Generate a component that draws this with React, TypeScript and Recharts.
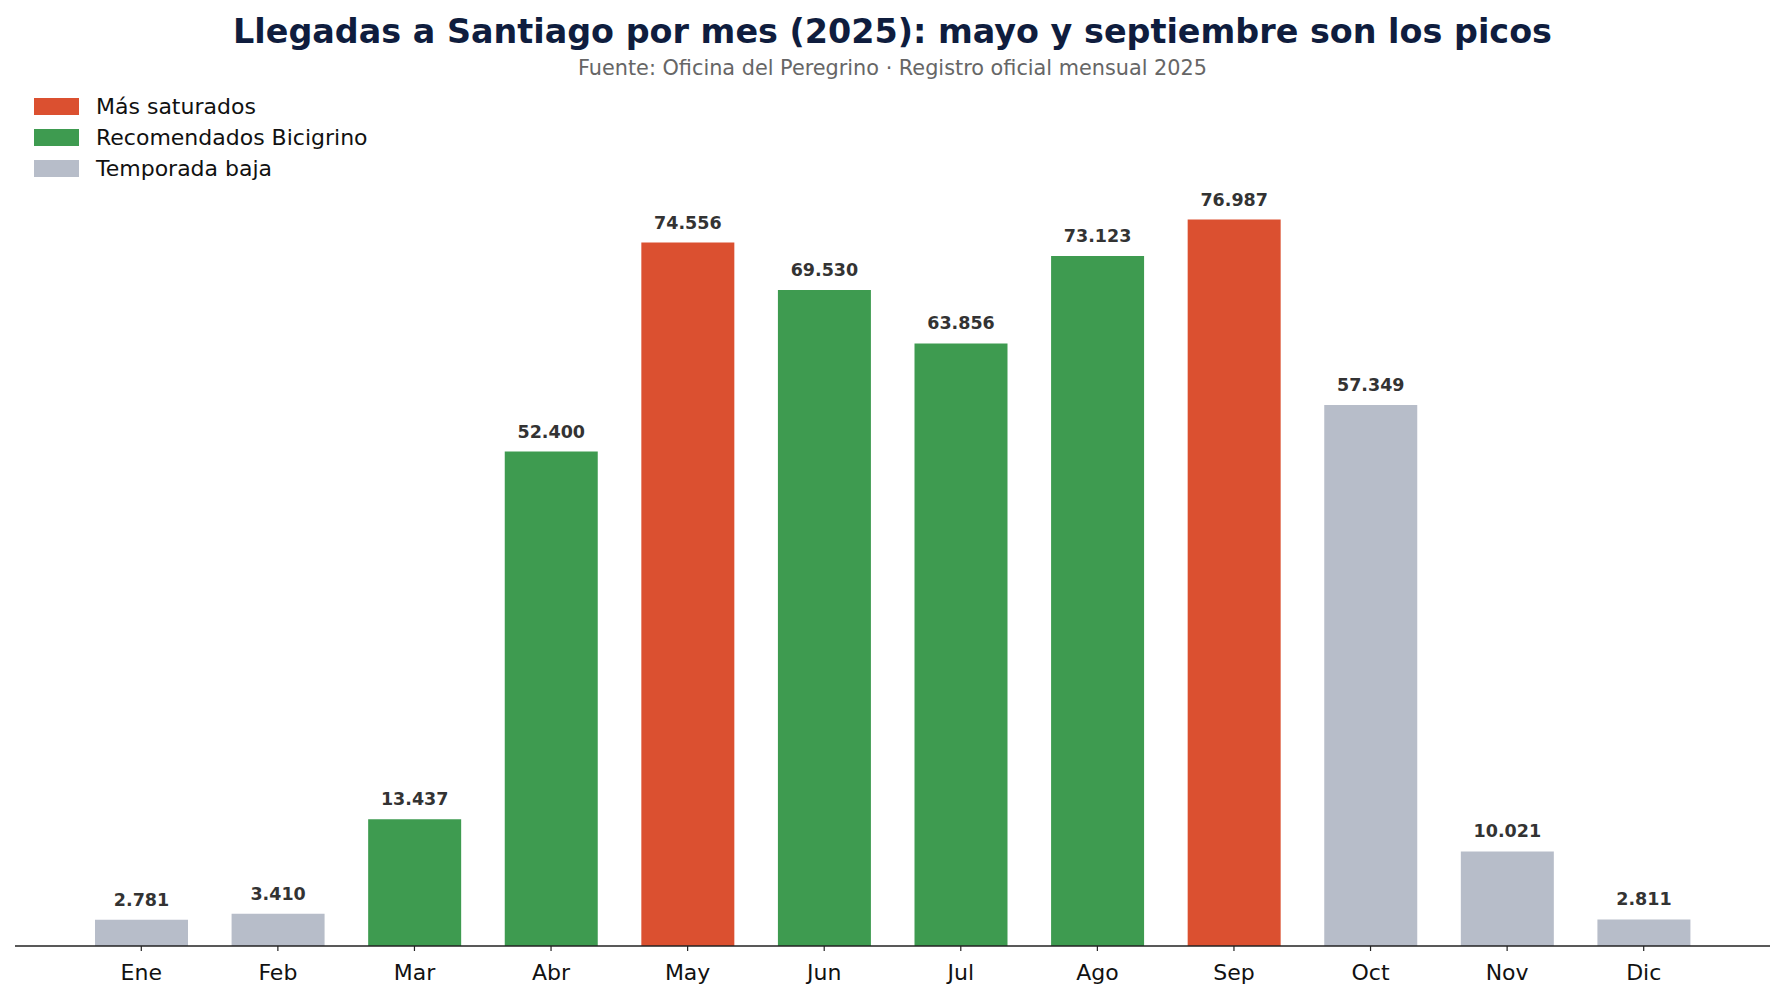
import React from 'react';
import { BarChart, Bar, XAxis, YAxis, Cell, LabelList } from 'recharts';

const months = ['Ene', 'Feb', 'Mar', 'Abr', 'May', 'Jun', 'Jul', 'Ago', 'Sep', 'Oct', 'Nov', 'Dic'];
const arrivals = [2781, 3410, 13437, 52400, 74556, 69530, 63856, 73123, 76987, 57349, 10021, 2811];
// 0 = más saturados, 1 = recomendados, 2 = temporada baja
const groups = [2, 2, 1, 1, 0, 1, 1, 1, 0, 2, 2, 2];
const groupNames = ['Más saturados', 'Recomendados Bicigrino', 'Temporada baja'];
const groupColors = ['#db5030', '#3e9b50', '#b7bdc9'];

const W = 1785;
const H = 1000;
const FONT = '"DejaVu Sans", Verdana, sans-serif';

const data = months.map((m, i) => ({ month: m, value: arrivals[i], group: groups[i] }));

const fmt = (n: number) => n.toString().replace(/\B(?=(\d{3})+(?!\d))/g, '.');

const ValueLabel = (props: any) => {
  const { x, y, width, value } = props;
  return (
    <text
      x={x + width / 2}
      y={y - 14}
      textAnchor="middle"
      fontFamily={FONT}
      fontSize={17.5}
      fontWeight="bold"
      fill="#333333"
    >
      {fmt(value)}
    </text>
  );
};

const App: React.FC = () => {
  return (
    <div style={{ position: 'absolute', left: 0, top: 0, width: W, height: H, background: '#fff' }}>
      <BarChart
        width={W}
        height={H}
        data={data}
        margin={{ top: 144, right: 15, bottom: 24, left: 15 }}
      >
        <YAxis hide domain={[0, 85000]} />
        <XAxis
          dataKey="month"
          height={30}
          padding={{ left: 58, right: 58 }}
          axisLine={{ stroke: '#222222', strokeWidth: 1.5 }}
          tickLine={{ stroke: '#222222', strokeWidth: 1.2 }}
          tickSize={5}
          tickMargin={13}
          tick={{ fill: '#111111', fontSize: 22, fontFamily: FONT }}
        />
        <Bar dataKey="value" barSize={93} isAnimationActive={false}>
          {data.map((d, i) => (
            <Cell key={i} fill={groupColors[d.group]} />
          ))}
          <LabelList dataKey="value" content={ValueLabel} />
        </Bar>
      </BarChart>

      {/* title, source line and legend */}
      <svg width={W} height={200} style={{ position: 'absolute', left: 0, top: 0 }}>
        <text
          x={W / 2}
          y={42.5}
          textAnchor="middle"
          fontFamily={FONT}
          fontSize={33.4}
          fontWeight="bold"
          fill="#0f1d3e"
        >
          Llegadas a Santiago por mes (2025): mayo y septiembre son los picos
        </text>
        <text x={W / 2} y={75} textAnchor="middle" fontFamily={FONT} fontSize={20.8} fill="#666666">
          Fuente: Oficina del Peregrino · Registro oficial mensual 2025
        </text>
        {groupNames.map((name, i) => (
          <g key={name}>
            <rect x={34} y={98 + i * 31} width={45} height={17} fill={groupColors[i]} />
            <text x={96} y={114 + i * 31} fontFamily={FONT} fontSize={22} fill="#111111">
              {name}
            </text>
          </g>
        ))}
      </svg>
    </div>
  );
};

export default App;
